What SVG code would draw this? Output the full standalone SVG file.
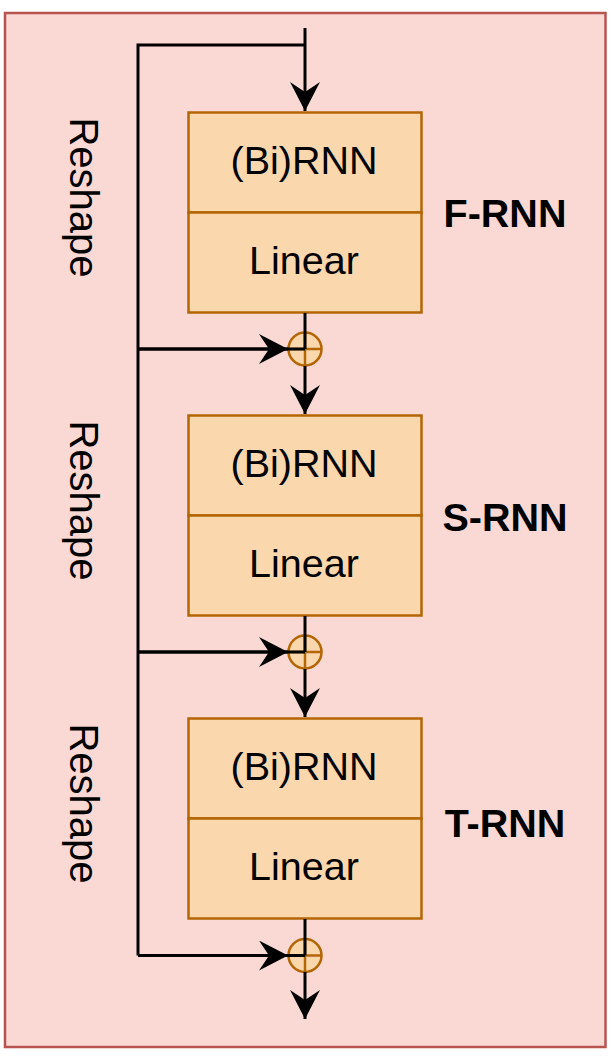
<svg xmlns="http://www.w3.org/2000/svg" width="611" height="1059" viewBox="0 0 611 1059">
<defs>
<style>
.blk{fill:#fad7ac;stroke:#b46504;stroke-width:2.5}
.t{font-family:"Liberation Sans",Arial,sans-serif;font-size:39.5px;fill:#000;text-anchor:middle}
.b{font-weight:bold}
.rs{font-family:"Liberation Sans",Arial,sans-serif;font-size:40px;fill:#000;text-anchor:middle}
.e{fill:none;stroke:#000;stroke-width:3}
.sum{fill:#fad7ac;stroke:#b46504;stroke-width:2.5}
.x{stroke:#b46504;stroke-width:2.5}
</style>
<marker id="ah" viewBox="0 0 29 30" markerUnits="userSpaceOnUse" markerWidth="29" markerHeight="30" refX="29" refY="15" orient="auto">
<path d="M0,0 L29,15 L0,30 L10,15 Z" fill="#000"/>
</marker>
</defs>
<rect x="5" y="13" width="600.5" height="1034" fill="#fad9d5" stroke="#b85450" stroke-width="2.5"/>

<g id="reshape1"><text class="rs" transform="translate(70,197.5) rotate(90)">Reshape</text></g>
<g id="reshape2"><text class="rs" transform="translate(70,500.5) rotate(90)">Reshape</text></g>
<g id="reshape3"><text class="rs" transform="translate(70,803.5) rotate(90)">Reshape</text></g>

<g id="frnn">
<rect class="blk" x="188.5" y="112.5" width="233" height="100"/>
<rect class="blk" x="188.5" y="212.5" width="233" height="100"/>
<text class="t" x="304" y="174">(Bi)RNN</text>
<text class="t" x="304" y="274">Linear</text>
<text class="t b" x="505" y="227">F-RNN</text>
</g>
<g id="srnn">
<rect class="blk" x="188.5" y="415.5" width="233" height="100"/>
<rect class="blk" x="188.5" y="515.5" width="233" height="100"/>
<text class="t" x="304" y="477">(Bi)RNN</text>
<text class="t" x="304" y="577">Linear</text>
<text class="t b" x="505" y="531">S-RNN</text>
</g>
<g id="trnn">
<rect class="blk" x="188.5" y="718.5" width="233" height="100"/>
<rect class="blk" x="188.5" y="818.5" width="233" height="100"/>
<text class="t" x="304" y="780">(Bi)RNN</text>
<text class="t" x="304" y="880">Linear</text>
<text class="t b" x="505" y="837">T-RNN</text>
</g>

<g id="sum1"><circle class="sum" cx="305" cy="349" r="16.5"/><line class="x" x1="288.5" y1="349" x2="321.5" y2="349"/><line class="x" x1="305" y1="332.5" x2="305" y2="365.5"/></g>
<g id="sum2"><circle class="sum" cx="305" cy="652" r="16.5"/><line class="x" x1="288.5" y1="652" x2="321.5" y2="652"/><line class="x" x1="305" y1="635.5" x2="305" y2="668.5"/></g>
<g id="sum3"><circle class="sum" cx="305" cy="955.5" r="16.5"/><line class="x" x1="288.5" y1="955.5" x2="321.5" y2="955.5"/><line class="x" x1="305" y1="939" x2="305" y2="972"/></g>

<g id="connectors">
<path class="e" d="M305,28 V111" marker-end="url(#ah)"/>
<path class="e" d="M305,45 H138 V955.5"/>
<path class="e" d="M138,349 H305"/>
<path class="e" d="M138,349 H288" marker-end="url(#ah)"/>
<path class="e" d="M138,652 H305"/>
<path class="e" d="M138,652 H288" marker-end="url(#ah)"/>
<path class="e" d="M138,955.5 H305"/>
<path class="e" d="M138,955.5 H288" marker-end="url(#ah)"/>
<path class="e" d="M305,313 V349"/>
<path class="e" d="M305,616 V652"/>
<path class="e" d="M305,919 V955.5"/>
<path class="e" d="M305,366 V414" marker-end="url(#ah)"/>
<path class="e" d="M305,669 V717" marker-end="url(#ah)"/>
<path class="e" d="M305,972 V1019" marker-end="url(#ah)"/>
</g>
</svg>
